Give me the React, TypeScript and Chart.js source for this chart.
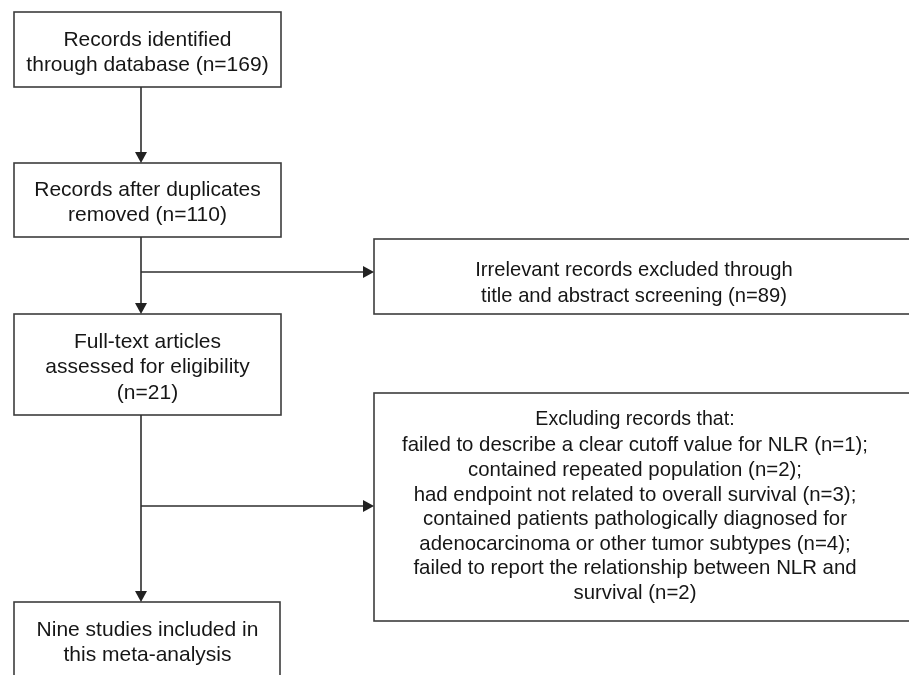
import React, { useEffect, useRef } from "react";
import { Chart, registerables } from "chart.js";

Chart.register(...registerables);

// ---- content (text of the flow diagram) ----
const mainBoxLines: string[][] = [
  ["Records identified", "through database (n=169)"],
  ["Records after duplicates", "removed (n=110)"],
  ["Full-text articles", "assessed for eligibility", "(n=21)"],
  ["Nine studies included in", "this meta-analysis"],
];

const excludeBoxLines: string[][] = [
  ["Irrelevant records excluded through", "title and abstract screening (n=89)"],
  [
    "Excluding records that:",
    "failed to describe a clear cutoff value for NLR (n=1);",
    "contained repeated population (n=2);",
    "had endpoint not related to overall survival (n=3);",
    "contained patients pathologically diagnosed for",
    "adenocarcinoma or other tumor subtypes (n=4);",
    "failed to report the relationship between NLR and",
    "survival (n=2)",
  ],
];

// ---- layout (in the diagram's own coordinate units) ----
const W = 909;
const H = 675;

type Box = {
  x1: number; x2: number; y1: number; y2: number;
  tx: number; ty: number; lh: number; fs: number;
  firstGap?: number; firstFs?: number;
};

const mainBoxes: Box[] = [
  { x1: 14, x2: 281, y1: 12, y2: 87, tx: 147.5, ty: 38, lh: 25.5, fs: 21 },
  { x1: 14, x2: 281, y1: 163, y2: 237, tx: 147.5, ty: 188, lh: 25.5, fs: 21 },
  { x1: 14, x2: 281, y1: 314, y2: 415, tx: 147.5, ty: 340, lh: 25.8, fs: 21 },
  { x1: 14, x2: 280, y1: 602, y2: 700, tx: 147.5, ty: 628, lh: 25.5, fs: 21 },
];

const excludeBoxes: Box[] = [
  { x1: 374, x2: 930, y1: 239, y2: 314, tx: 634, ty: 269, lh: 25.5, fs: 20.2 },
  { x1: 374, x2: 930, y1: 393, y2: 621, tx: 635, ty: 418, lh: 24.6, fs: 20.4, firstGap: 26, firstFs: 19.6 },
];

const spineX = 141;
// vertical arrows: [fromY, toY]
const verticalArrows: [number, number][] = [
  [87, 163],
  [237, 314],
  [415, 602],
];
// horizontal branch arrows: [y, toX]
const branchArrows: [number, number][] = [
  [272, 374],
  [506, 374],
];

const FONT = '"Liberation Sans", Arial, Helvetica, sans-serif';

const flowPlugin = {
  id: "flowDiagram",
  afterDraw(chart: any) {
    const { ctx } = chart;
    const xs = chart.scales.x;
    const ys = chart.scales.y;
    const px = (v: number) => xs.getPixelForValue(v);
    const py = (v: number) => ys.getPixelForValue(v);

    ctx.save();
    ctx.fillStyle = "#ffffff";
    ctx.fillRect(0, 0, chart.width, chart.height);

    const drawBox = (b: Box, lines: string[]) => {
      ctx.strokeStyle = "#3d3d3d";
      ctx.lineWidth = 1.6;
      ctx.strokeRect(px(b.x1), py(b.y1), px(b.x2) - px(b.x1), py(b.y2) - py(b.y1));
      ctx.fillStyle = "#161616";
      ctx.textAlign = "center";
      ctx.textBaseline = "alphabetic";
      lines.forEach((t, i) => {
        let cy: number;
        let fs = b.fs;
        if (b.firstGap !== undefined) {
          cy = i === 0 ? b.ty : b.ty + b.firstGap + (i - 1) * b.lh;
          if (i === 0 && b.firstFs) fs = b.firstFs;
        } else {
          cy = b.ty + i * b.lh;
        }
        ctx.font = `${fs}px ${FONT}`;
        ctx.fillText(t, px(b.tx), py(cy + 0.358 * fs));
      });
    };

    mainBoxes.forEach((b, i) => drawBox(b, mainBoxLines[i]));
    excludeBoxes.forEach((b, i) => drawBox(b, excludeBoxLines[i]));

    const head = 11;
    const half = 6;
    ctx.strokeStyle = "#2e2e2e";
    ctx.fillStyle = "#222222";
    ctx.lineWidth = 1.6;

    verticalArrows.forEach(([y0, y1]) => {
      const x = px(spineX);
      ctx.beginPath();
      ctx.moveTo(x, py(y0));
      ctx.lineTo(x, py(y1) - head);
      ctx.stroke();
      ctx.beginPath();
      ctx.moveTo(x, py(y1));
      ctx.lineTo(x - half, py(y1) - head);
      ctx.lineTo(x + half, py(y1) - head);
      ctx.closePath();
      ctx.fill();
    });

    branchArrows.forEach(([y, x1]) => {
      const yy = py(y);
      ctx.beginPath();
      ctx.moveTo(px(spineX), yy);
      ctx.lineTo(px(x1) - head, yy);
      ctx.stroke();
      ctx.beginPath();
      ctx.moveTo(px(x1), yy);
      ctx.lineTo(px(x1) - head, yy - half);
      ctx.lineTo(px(x1) - head, yy + half);
      ctx.closePath();
      ctx.fill();
    });

    ctx.restore();
  },
};

export default function App() {
  const ref = useRef<HTMLCanvasElement | null>(null);

  useEffect(() => {
    if (!ref.current) return;
    const chart = new Chart(ref.current, {
      type: "scatter",
      data: { datasets: [{ data: [], pointRadius: 0 }] },
      options: {
        animation: false,
        responsive: false,
        layout: { padding: 0 },
        scales: {
          x: { type: "linear", min: 0, max: W, display: false },
          y: { type: "linear", min: 0, max: H, reverse: true, display: false },
        },
        plugins: { legend: { display: false }, tooltip: { enabled: false } },
      },
      plugins: [flowPlugin],
    });
    return () => chart.destroy();
  }, []);

  return (
    <div style={{ position: "fixed", left: 0, top: 0, width: W, height: H, background: "#fff" }}>
      <canvas ref={ref} width={W} height={H} style={{ display: "block", width: W, height: H }} />
    </div>
  );
}
